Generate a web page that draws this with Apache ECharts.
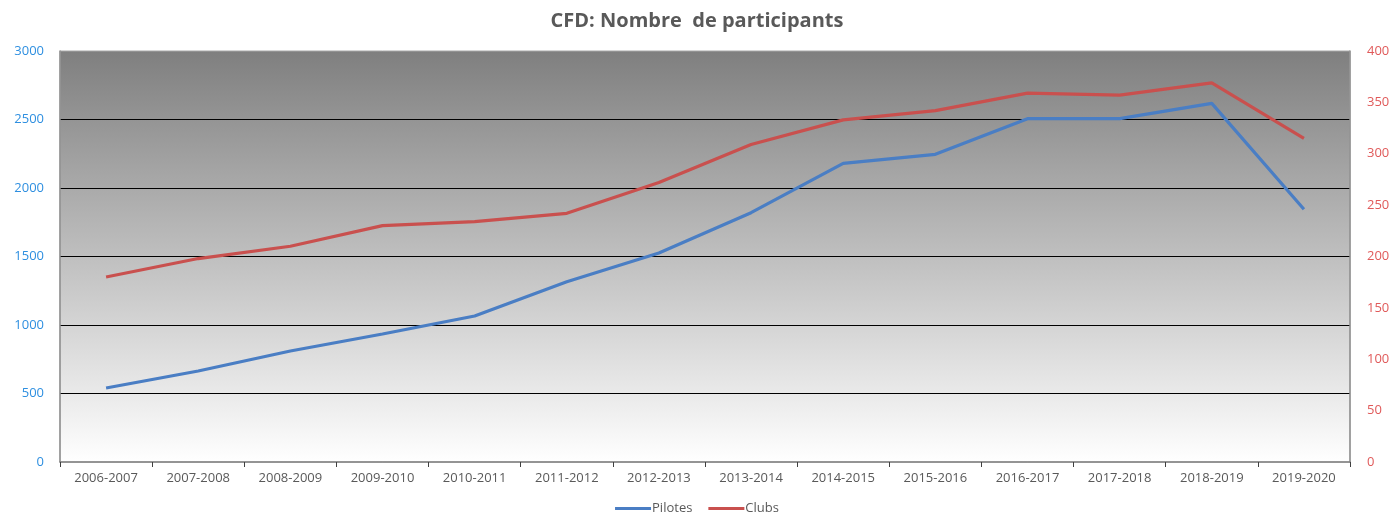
<!DOCTYPE html>
<html>
<head>
<meta charset="utf-8">
<script src="https://cdn.jsdelivr.net/npm/echarts@6/dist/echarts.min.js"></script>
<style>html,body{margin:0;padding:0;background:#fff}#c{width:1394px;height:513px}</style>
</head>
<body>
<div id="c"></div>
<script>
const categories = ['2006-2007','2007-2008','2008-2009','2009-2010','2010-2011','2011-2012','2012-2013','2013-2014','2014-2015','2015-2016','2016-2017','2017-2018','2018-2019','2019-2020'];
const pilotes = [540, 664, 810, 934, 1066, 1316, 1526, 1820, 2180, 2246, 2506, 2506, 2618, 1845];
const clubs = [180, 198, 210, 230, 234, 242, 272, 309, 333, 342, 359, 357, 369, 315];
const leftTicks = [0, 3000, 500];
const rightTicks = [0, 400, 50];

const font = '"Open Sans", "Liberation Sans", sans-serif';
const chart = echarts.init(document.getElementById('c'), null, {renderer: 'canvas'});
chart.setOption({
  animation: false,
  backgroundColor: '#ffffff',
  title: {
    text: 'CFD: Nombre  de participants',
    left: 'center', top: 6,
    textStyle: {fontFamily: font, fontSize: 20, fontWeight: 'bold', color: '#595959'}
  },
  legend: {
    bottom: -7, left: 'center',
    itemWidth: 36, itemHeight: 3, itemGap: 16,
    icon: 'rect',
    textStyle: {fontFamily: font, fontSize: 13, color: '#595959', padding: [0,0,0,-4]},
    data: ['Pilotes', 'Clubs']
  },
  grid: {
    left: 60, right: 44, top: 51, bottom: 51,
    show: true,
    borderWidth: 1, borderColor: '#a8a8a8',
    backgroundColor: {
      type: 'linear', x: 0, y: 0, x2: 0, y2: 1,
      colorStops: [{offset: 0, color: '#7f7f7f'}, {offset: 1, color: '#ffffff'}]
    }
  },
  xAxis: {
    type: 'category', data: categories, boundaryGap: true,
    axisLine: {lineStyle: {color: '#808080', width: 1.5}},
    axisTick: {show: true, alignWithLabel: false, length: 5, lineStyle: {color: '#404040'}},
    axisLabel: {fontFamily: font, fontSize: 13, color: '#595959', margin: 10, interval: 0}
  },
  yAxis: [{
    type: 'value', min: leftTicks[0], max: leftTicks[1], interval: leftTicks[2],
    axisLine: {show: true, lineStyle: {color: '#909090', width: 1.5}},
    axisTick: {show: false},
    axisLabel: {fontFamily: font, fontSize: 13, color: '#2e8fe0', margin: 16, formatter: v => String(v)},
    splitLine: {showMaxLine: false, showMinLine: false, lineStyle: {color: '#000000', width: 1.2}}
  }, {
    type: 'value', min: rightTicks[0], max: rightTicks[1], interval: rightTicks[2],
    position: 'right',
    axisLine: {show: true, lineStyle: {color: '#909090', width: 1.5}},
    axisTick: {show: false},
    axisLabel: {fontFamily: font, fontSize: 13, color: '#e05a5a', margin: 17, formatter: v => String(v)},
    splitLine: {show: false}
  }],
  series: [{
    name: 'Pilotes', type: 'line', yAxisIndex: 0, data: pilotes,
    symbol: 'none', lineStyle: {color: '#4a7ec4', width: 3.2}, itemStyle: {color: '#4a7ec4'}
  }, {
    name: 'Clubs', type: 'line', yAxisIndex: 1, data: clubs,
    symbol: 'none', lineStyle: {color: '#c9504e', width: 3.2}, itemStyle: {color: '#c9504e'}
  }]
});
</script>
</body>
</html>
